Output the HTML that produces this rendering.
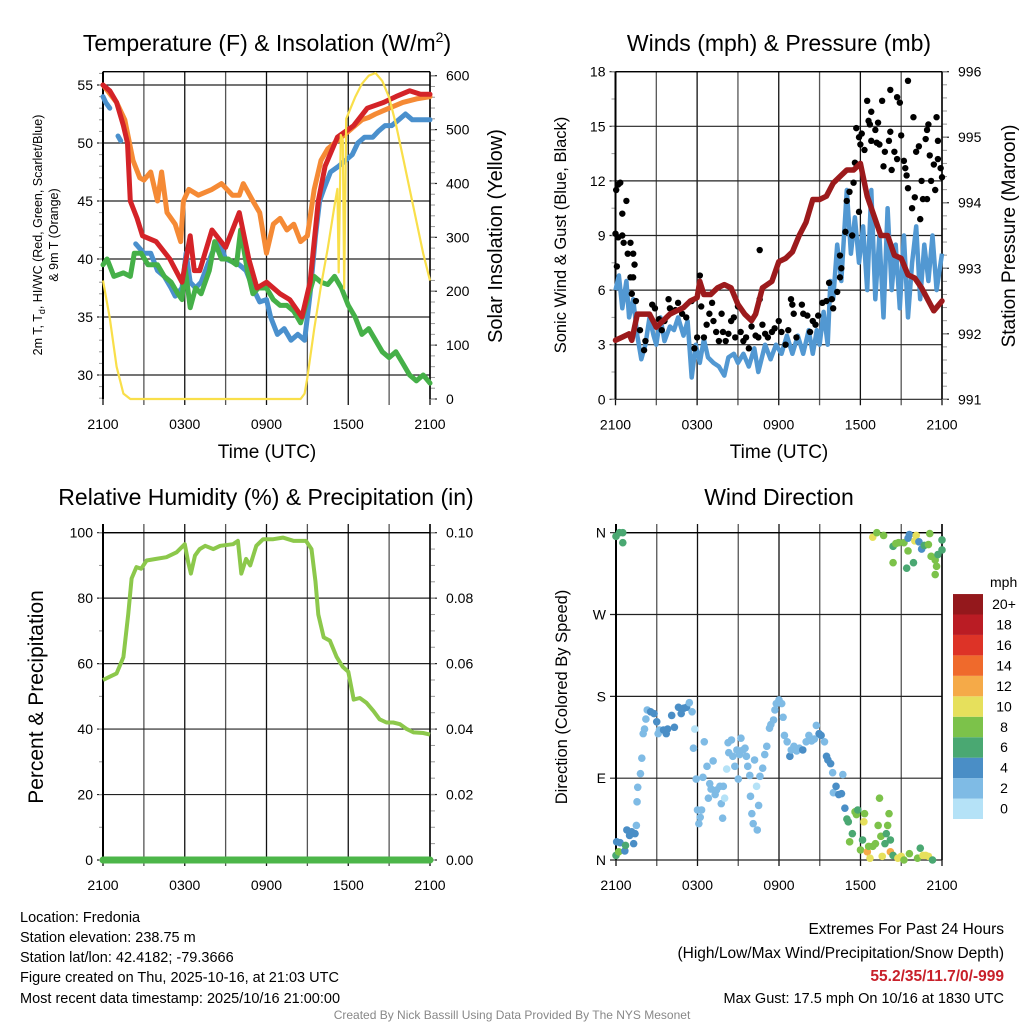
<!DOCTYPE html>
<html><head><meta charset="utf-8"><style>
html,body{margin:0;padding:0;background:#fff;}
svg{display:block;font-family:"Liberation Sans",Arial,sans-serif;}
</style></head><body>
<svg id="chart" width="1024" height="1024" viewBox="0 0 1024 1024" xmlns="http://www.w3.org/2000/svg">
<rect x="0" y="0" width="1024" height="1024" fill="#fff"/>
<g id="layer"></g>
<text x="267" y="51" font-size="23" text-anchor="middle">Temperature (F) &amp; Insolation (W/m<tspan font-size="14" dy="-9">2</tspan><tspan dy="9">)</tspan></text>
<text x="779" y="51" font-size="23" text-anchor="middle">Winds (mph) &amp; Pressure (mb)</text>
<text x="266" y="505" font-size="23" text-anchor="middle">Relative Humidity (%) &amp; Precipitation (in)</text>
<text x="779" y="505" font-size="23" text-anchor="middle">Wind Direction</text>
<text x="267" y="458" font-size="19" text-anchor="middle">Time (UTC)</text>
<text x="779" y="458" font-size="19" text-anchor="middle">Time (UTC)</text>
<text transform="translate(42,235) rotate(-90)" font-size="12.5" text-anchor="middle">2m T, T<tspan font-size="9" dy="3">d</tspan><tspan dy="-3">, HI/WC (Red, Green, Scarlet/Blue)</tspan></text>
<text transform="translate(58,235) rotate(-90)" font-size="12.5" text-anchor="middle">&amp; 9m T (Orange)</text>
<text transform="translate(502,236) rotate(-90)" font-size="20" text-anchor="middle">Solar Insolation (Yellow)</text>
<text transform="translate(566,235) rotate(-90)" font-size="16.5" text-anchor="middle">Sonic Wind &amp; Gust (Blue, Black)</text>
<text transform="translate(1015,236) rotate(-90)" font-size="19" text-anchor="middle">Station Pressure (Maroon)</text>
<text transform="translate(43,697) rotate(-90)" font-size="21" text-anchor="middle">Percent &amp; Precipitation</text>
<text transform="translate(567,697) rotate(-90)" font-size="16.5" text-anchor="middle">Direction (Colored By Speed)</text>
<text x="990" y="587" font-size="14">mph</text>
<g font-size="14.5">
<text x="20" y="922">Location: Fredonia</text>
<text x="20" y="942">Station elevation: 238.75 m</text>
<text x="20" y="962">Station lat/lon: 42.4182; -79.3666</text>
<text x="20" y="982">Figure created on Thu, 2025-10-16, at 21:03 UTC</text>
<text x="20" y="1003">Most recent data timestamp: 2025/10/16 21:00:00</text>
</g>
<g font-size="15.5" text-anchor="end">
<text x="1004" y="934">Extremes For Past 24 Hours</text>
<text x="1004" y="958">(High/Low/Max Wind/Precipitation/Snow Depth)</text>
<text x="1004" y="981" fill="#c8202a" font-weight="bold">55.2/35/11.7/0/-999</text>
<text x="1004" y="1003" font-size="14.5">Max Gust: 17.5 mph On 10/16 at 1830 UTC</text>
</g>
<text x="512" y="1019" font-size="12" fill="#888" text-anchor="middle">Created By Nick Bassill Using Data Provided By The NYS Mesonet</text>
</svg>
<script>
// ---------- DATA ----------
const xTickLabels = ["2100","0300","0900","1500","2100"];
const redH = [0,0.5,1,1.5,1.8,2.0,2.5,2.9,3.9,4.9,5.8,6.4,6.7,7.1,8,9,10,10.7,11.3,12,13,13.7,14.6,15.2,15.8,16.3,17.2,18.4,19.4,20.6,21.5,22.5,23.3,24];
const redV = [55,54.5,53.5,51.5,50,45,43.5,42,41.5,40,38,42,39,39,42.5,41,44,40,37.5,38,37,36.5,35,38,45,48,50.5,51.5,53,53.5,54,54.5,54.2,54.2];
const orangeH = [0,1,1.6,2.2,2.7,3,3.5,4,4.3,4.7,5.3,5.7,5.9,6.3,7,8,8.7,9.5,10,10.3,11,11.5,12,12.5,13,13.5,14,14.5,15,15.5,16,16.5,17,17.5,18,18.5,19,19.5,20,21,22,23,24];
const orangeV = [55,53.5,52,48.5,47,46.8,47.5,45,47.5,44,43,41.5,45,46,45.5,46,46.5,45.5,45.5,46.5,45,44,40.5,43,43.5,42.5,43,41.5,42,46,48.5,49.5,50,50.5,51,51.5,52,52.2,52.5,53,53.5,53.8,54];
// null = data gap
const blueTH = [0,0.2,0.5,0.7,1.1,1.3,2.3,2.4,3,3.5,4,4.5,5,5.3,5.8,6.1,6.4,6.8,7.2,8,8.5,9,10,10.5,11,11.5,12,12.3,12.8,13.3,13.8,14.3,14.8,15.2,15.6,15.9,16.2,16.7,17.3,17.8,18.3,18.7,19.2,19.8,20.2,20.7,21.2,21.7,22.2,22.7,23.2,24];
const blueTV = [54,53.5,53,null,50.6,50.2,null,41.3,40.5,40.5,39,38.5,37.5,36.8,37.5,40.5,38,37.5,38,40.5,41.5,40,39.5,39,37.5,36.3,36.5,35,33.5,34,33,33.5,33,37,42,45,46,47.5,48,48.5,49,50,50.5,50.5,51,51.5,51.5,52,52.5,52,52,52];
const greenH = [0,0.3,0.8,1.5,2,2.3,2.8,3.3,4,4.5,5,5.5,5.8,6,6.4,6.8,7.2,7.8,8.2,8.7,9.2,9.8,10.1,10.6,11,11.4,12,12.5,13,13.5,14,14.5,15,15.5,16,16.5,17,17.5,18,18.5,19,19.5,20,20.5,21,21.5,22,22.5,23,23.5,24];
const greenV = [39.5,40,38.5,38.8,38.5,40.5,40.5,39.5,39.5,38.5,38,37,36.5,39.5,35.8,37.5,37,39,41.5,40,40,39.5,42.5,39,37,37.5,37.5,36.5,36,36,35.5,34.5,36.5,38.5,38,37.8,38.5,37.5,36,35,33.5,34,33,32,31.5,32,31,30,29.5,30,29.3];
const solarH = [0,0.5,1,1.5,2,14.5,14.8,15,15.5,16,16.5,17,17.2,17.3,17.45,17.6,17.7,17.85,18.5,19,19.5,20,20.5,21,21.5,22,22.5,23,23.5,24];
const solarV = [220,150,60,10,0,0,10,40,130,210,280,360,390,235,490,480,205,520,560,585,600,605,590,560,510,450,390,330,270,220];
const windH = [0,0.25,0.5,0.8,1,1.3,1.6,1.9,2.2,2.5,2.8,3,3.3,3.6,4,4.3,4.6,5,5.3,5.6,5.9,6.2,6.5,6.8,7.2,7.6,8,8.3,8.7,9,9.4,9.8,10.2,10.5,11,11.4,11.8,12.2,12.6,13,13.4,13.8,14.2,14.5,14.8,15,15.3,15.6,15.8,16,16.3,16.6,17,17.3,17.6,17.9,18.2,18.5,18.8,19.1,19.4,19.7,20,20.3,20.6,20.9,21.2,21.5,21.8,22.1,22.4,22.7,23,23.3,23.6,24];
const windV = [6,6.8,5,6.5,4.5,5.5,3.5,2.2,3,4.5,3.5,3,4.5,3.2,4,3.8,4.5,3.5,4.3,1.2,3,2,3.3,2.3,2,1.8,1.3,2.3,2.5,2,2.5,1.8,2.8,1.5,3,2.2,3,2.5,3.5,2.5,3.5,2.5,3.8,2.5,3.8,3,4.8,3,6.5,5.5,8.5,6.5,11.5,8,10,7.5,9.5,6,11.5,5.5,9,4.5,10.5,6,8.5,5,9,4.5,7.5,9.5,5.5,8.5,6.5,9,6,8];
const pressH = [0,0.5,1,1.2,1.6,2,2.5,3,3.5,4,4.5,5,5.5,6,6.2,6.5,7,7.5,8,8.5,9,9.5,10,10.3,10.8,11.5,12,12.5,13,13.5,14,14.5,15,15.5,16,16.5,17,17.5,18,18.5,19,19.5,20,20.5,21,21.5,22,22.5,23.4,24];
const pressV = [991.9,991.95,992,991.9,992.3,992.3,992.3,992.1,992.2,992.3,992.35,992.4,992.5,992.55,992.8,992.6,992.6,992.7,992.75,992.7,992.45,992.3,992.2,992.3,992.7,992.8,993.1,993.15,993.25,993.5,993.7,994.05,994.05,994.1,994.3,994.4,994.5,994.5,994.6,994.1,993.8,993.5,993.5,993.2,993.15,992.9,992.85,992.7,992.35,992.5];
const gustH = [0,0.05,0.2,0.35,0.1,0.2,0.5,0.5,0.8,0.6,0.9,1.1,1.3,1.4,1.1,1.3,1.2,1.5,1.8,2.1,2.2,2.7,2.9,3.2,3.4,3.6,3.9,4,4.4,4.6,4.9,5.2,5.6,5.8,6,6.2,6.3,6.5,6.7,6.9,7.1,7.2,7.4,7.6,7.8,7.9,8.1,8.3,8.5,8.7,8.8,9,9.2,9.4,9.6,9.8,10,10.3,10.5,10.6,10.6,10.8,11,11.2,11.5,11.7,12,12.2,12.5,12.7,12.9,13,13.1,13.3,13.7,13.8,14.1,14.3,14.5,14.7,14.9,15.2,15.5,15.7,15.9,16,16.3,16.5,16.5,16.6,16.9,17,17.2,17.4,17.5,17.6,17.7,17.9,17.9,18,18.1,18.3,18.5,18.6,18.7,18.8,18.8,19.1,19.2,19.3,19.4,19.6,19.7,19.8,20.1,20.2,20.2,20.3,20.5,20.7,20.7,20.9,21,21.2,21.3,21.4,21.5,21.5,21.8,21.9,22,22.1,22.3,22.4,22.5,22.6,22.8,22.9,22.9,23,23.1,23.2,23.4,23.5,23.6,23.7,23.7,23.9,24];
const gustV = [9.1,11.5,11.8,11.9,7.3,8.9,9,10.2,10.9,8.6,8,8.6,8,7.4,6.7,6.7,5.8,5.4,3.8,2.7,3.2,5.2,5,4.4,3.8,4.3,5.5,5,4.9,5.3,4.7,4.5,5.4,2.8,3.4,6.8,5.1,3.4,4.1,4.7,5.3,4.3,3.7,3.2,4.7,3.7,3.2,3.6,4.3,4.5,3.4,5.1,3.7,3.2,3.4,2.8,4,3.5,3.4,8.2,5.5,4.1,3.6,3.4,3.7,3.9,4.3,3.7,3,3.8,5.5,5.2,4.7,3.4,5.2,4.7,4.6,3.7,4.3,4.1,4.6,5.3,5.4,6.4,5.5,5,5.9,7.9,6.7,7.2,9.2,10.9,11.4,9,11.9,13,14.9,14.4,10.3,14,14.6,13.7,16.4,15.3,15.1,15.8,14.2,14.8,14.1,15.2,14,16.4,12.8,13.6,14.2,14.7,17,12.6,13.6,13.2,16.6,16.3,14.5,13.1,12.7,12.3,17.5,11.6,10.5,15.5,11.1,13.6,13.9,9.9,12,11,14.3,14.8,11,15.1,13.4,12,12.9,11.5,15.5,13.2,14.2,12.7,12.2];
const rhH = [0,0.5,1,1.5,1.85,2.1,2.45,2.8,3.2,3.9,4.65,5.4,6,6.25,6.45,6.75,7.1,7.5,8.1,8.6,9.55,9.9,10.15,10.5,10.8,11.25,11.75,12.5,13.2,14,14.9,15.3,15.6,15.8,16.2,16.65,17.15,17.6,18,18.4,18.85,19.35,19.85,20.3,20.8,21.3,21.8,22.3,22.8,23.5,24];
const rhV = [55,56,57,62,75,86,89.5,89,91.5,92,92.5,94,96.5,91,87.5,93,95,96,95,96,96.5,97.5,87.5,92,90,96,98,98,98.5,97.5,97.5,95,85,75,68,67,62,59,57.5,49,49.5,48,45.5,43,42,42,41.5,40,39,38.8,38.3];
const precipH = [0,24];
const precipV = [0,0];
const dirH = [0,0.25,0.5,0.5,0,0.2,0.05,0.3,0.65,0.7,0.8,1,1.15,1.3,1.4,1.5,1.55,1.6,1.8,1.9,2,2.1,2.2,2.3,2.55,2.8,3,3.1,3.2,3.5,3.7,3.8,4.1,4.3,4.6,4.8,5,5.2,5.4,5.6,5.8,5.7,5.9,6,6.1,6.2,6.3,6.4,6.5,6.7,6.8,6.9,7,7.15,7.3,7.4,7.65,7.75,7.85,7.9,8,8.15,8.25,8.3,8.5,8.6,8.75,8.9,9,9.1,9.2,9.35,9.5,9.6,9.7,9.85,9.9,10,10.1,10.2,10.35,10.4,10.5,10.6,10.8,10.95,11.1,11.3,11.4,11.6,11.7,11.8,12,12.2,12.3,12.4,12.6,12.8,12.9,13.1,13.3,13.5,13.75,14,14.2,14.4,14.6,14.75,14.95,15.1,15.35,15.5,15.6,15.8,15.95,16,16.2,16.4,16.6,16.7,16.85,17,17.1,17.2,17.4,17.6,17.7,17.8,18,18.15,18.25,18.3,18.5,18.6,18.7,18.9,19.1,19.3,19.4,19.5,19.6,19.8,19.9,20,20.1,20.2,20.2,20.4,20.75,21,21.2,21.6,22.2,22.4,22.6,22.8,23,23.3,18.9,19.2,19.7,20.4,20.6,20.8,20.4,21.2,21.5,21.9,21.4,21.6,21.5,22.1,22,22.3,22.5,22.7,23.1,23,23.2,23.5,23.6,23.5,23.7,24,24];
const dirV = [356,360,360,349,5,9,20,19,10,16,33,27,31,18,29,38,64,80,95,112,139,144,155,165,163,161,152,139,143,143,139,144,159,146,168,161,167,168,173,163,144,123,89,55,40,47,55,91,130,103,68,84,78,109,72,77,81,62,46,81,68,100,129,118,132,114,103,121,89,116,134,121,123,114,103,93,70,51,40,110,81,33,60,92,101,116,125,145,149,154,165,172,176,172,157,137,130,114,121,125,120,123,121,130,137,131,133,148,139,137,130,114,110,106,96,74,81,72,73,94,57,45,42,20,29,53,50,55,11,22,42,51,9,15,2,15,18,38,68,26,4,18,29,38,51,22,9,5,2,4,0,7,2,13,5,5,4,0,355,360,357,345,348,349,327,349,340,327,321,358,354,357,351,350,342,346,359,347,334,330,323,314,336,352,341];
const dirS = [3,3,3,3,3,4,2,2,2,3,2,2,2,2,2,1,1,1,1,1,1,1,1,1,2,2,2,1,1,2,2,2,2,2,2,2,2,2,1,1,0,1,1,1,1,1,1,1,1,1,1,1,1,1,1,1,1,1,1,1,0,0,1,1,1,1,1,1,1,1,1,1,1,1,1,1,1,1,1,1,0,1,1,1,1,1,1,1,1,1,1,1,1,1,1,1,1,2,1,1,1,1,2,1,1,1,1,1,2,2,1,2,2,2,1,1,2,2,2,1,2,3,3,4,3,4,4,3,4,3,5,4,6,4,5,4,4,4,4,4,5,3,3,4,4,3,6,3,5,5,4,4,4,3,5,5,5,3,5,4,4,3,4,4,4,4,4,3,3,2,2,5,5,2,2,3,4,4,4,4,4,4,3,3,3,4];
const speedColors = ["#b5e2f7","#7fbbe5","#4a8ec6","#4aa872","#7cc24a","#e6e05c","#f5aa48","#ef6a2c","#dd3327","#ba1c24","#94181c"];
const speedLabels = ["0","2","4","6","8","10","12","14","16","18","20+"];

// ---------- DRAWING ----------
const NS = "http://www.w3.org/2000/svg";
const layer = document.getElementById('layer');
function mk(tag, attrs, parent){
  const e = document.createElementNS(NS, tag);
  for (const k in attrs) e.setAttribute(k, attrs[k]);
  (parent||layer).appendChild(e);
  return e;
}
function makeX(x0, x1){ return h => x0 + (x1 - x0) * h / 24; }
function makeY(y0, y1, v0, v1){ return v => y0 + (y1 - y0) * (v - v0) / (v1 - v0); }
function linePath(hs, vs, xf, yf){
  let d = '', pen = false;
  hs.forEach((h,i)=>{
    if (vs[i] === null) { pen = false; return; }
    d += (pen ? 'L' : 'M') + xf(h).toFixed(1) + ' ' + yf(vs[i]).toFixed(1) + ' ';
    pen = true;
  });
  return d;
}
function frame(name, x0, x1, yTop, yBot, yTicksL, yfL, labelsL, rightTicks, yfR, labelsR, minorL, minorR, gridTop){
  const g = mk('g', {});
  
  
  const xf = makeX(x0, x1);
  for (let h = 0; h <= 24; h += 3) {
    const gx = xf(h);
    const ln = mk('line', {x1:gx, x2:gx, y1:gridTop, y2:yBot+6, stroke:(h%6===0)?'#111':'#555', 'stroke-width':1.3}, g);
    
    
  }
  xTickLabels.forEach((t,i)=>{
    const tx = mk('text', {x:xf(i*6), y:yBot+30, 'font-size':14, 'text-anchor':'middle'}, g);
    tx.textContent = t;
    
    
  });
  yTicksL.forEach((v,i)=>{
    const yy = yfL(v);
    const ln = mk('line', {x1:x0-6, x2:x1, y1:yy, y2:yy, stroke:'#222', 'stroke-width':1.2}, g);
    
    
    const tx = mk('text', {x:x0-10, y:yy+5, 'font-size':14, 'text-anchor':'end'}, g);
    tx.textContent = labelsL[i];
    
    
  });
  minorL.forEach(v=>{ const yy=yfL(v); mk('line',{x1:x0-4,x2:x0,y1:yy,y2:yy,stroke:'#999','stroke-width':1},g); });
  if (rightTicks) {
    rightTicks.forEach((v,i)=>{
      const yy = yfR(v);
      mk('line', {x1:x1, x2:x1+7, y1:yy, y2:yy, stroke:'#222', 'stroke-width':1.2}, g);
      const tx = mk('text', {x:x1+16, y:yy+5, 'font-size':14}, g);
      tx.textContent = labelsR[i];
      
      
    });
    minorR.forEach(v=>{ const yy=yfR(v); mk('line',{x1:x1,x2:x1+5,y1:yy,y2:yy,stroke:'#999','stroke-width':1},g); });
  }
  mk('line', {x1:x0, x2:x0, y1:gridTop, y2:yBot, stroke:'#000', 'stroke-width':2}, g);
  mk('line', {x1:x1, x2:x1, y1:gridTop, y2:yBot, stroke:'#000', 'stroke-width':1.5}, g);
  mk('line', {x1:x0, x2:x1, y1:yTop, y2:yTop, stroke:'#000', 'stroke-width':1.3}, g);
  return xf;
}
function range(a,b,s){const r=[];for(let v=a;v<=b+1e-9;v+=s)r.push(+v.toFixed(4));return r;}

// Panel 1
const p1x = makeX(103, 430);
const p1y = makeY(375, 85, 30, 55);
const p1r = makeY(399, 75.7, 0, 600);
frame('temperature', 103, 430, 71.7, 399, [55,50,45,40,35,30], p1y, ['55','50','45','40','35','30'],
  [0,100,200,300,400,500,600], p1r, ['0','100','200','300','400','500','600'], range(28,56,1), range(0,600,20), 71.7);
[[blueTH,blueTV,'#4a90cd','temp-scarlet-blue-line'],[greenH,greenV,'#45b048','dewpoint-green-line'],[orangeH,orangeV,'#f58a35','temp-9m-orange-line'],[redH,redV,'#d42328','temp-2m-red-line']].forEach(s=>{
  const p = mk('path', {d:linePath(s[0],s[1],p1x,p1y), fill:'none', stroke:s[2], 'stroke-width':5, 'stroke-linejoin':'round', 'stroke-linecap':'round'});
  
  
});
const sol = mk('path', {d:linePath(solarH, solarV, p1x, p1r), fill:'none', stroke:'#f9df4a', 'stroke-width':2.2, 'stroke-linejoin':'round'});



// Panel 2
const p2x = makeX(615.5, 942);
const p2y = makeY(399.3, 71.7, 0, 18);
const p2r = makeY(399.3, 71.7, 991, 996);
frame('winds', 615.5, 942, 71.7, 399.3, [18,15,12,9,6,3,0], p2y, ['18','15','12','9','6','3','0'],
  [991,992,993,994,995,996], p2r, ['991','992','993','994','995','996'], range(0,18,1.5), range(991,996,0.2), 71.7);
const wl = mk('path', {d:linePath(windH, windV, p2x, p2y), fill:'none', stroke:'#5298d2', 'stroke-width':4.5, 'stroke-linejoin':'round'});


gustH.forEach((h,i)=>{
  const c = mk('circle', {cx:p2x(h), cy:p2y(gustV[i]), r:3.2, fill:'#000'});
  
  
});
const pl = mk('path', {d:linePath(pressH, pressV, p2x, p2r), fill:'none', stroke:'#9c1a1c', 'stroke-width':5.5, 'stroke-linejoin':'round', 'stroke-linecap':'round'});



// Panel 3
const p3x = makeX(103, 430);
const p3y = makeY(860, 532.7, 0, 100);
const p3r = makeY(860, 532.7, 0, 0.1);
frame('humidity', 103, 430, 532.7, 860, [100,80,60,40,20,0], p3y, ['100','80','60','40','20','0'],
  [0,0.02,0.04,0.06,0.08,0.1], p3r, ['0.00','0.02','0.04','0.06','0.08','0.10'], range(0,100,10), range(0,0.1,0.005), 524);
const rl = mk('path', {d:linePath(rhH, rhV, p3x, p3y), fill:'none', stroke:'#8cc84b', 'stroke-width':4, 'stroke-linejoin':'round'});


const prl = mk('path', {d:linePath(precipH, precipV, p3x, p3r), fill:'none', stroke:'#4cb649', 'stroke-width':7, 'stroke-linecap':'round'});



// Panel 4
const p4x = makeX(616, 942);
const p4y = makeY(860, 532.7, 0, 360);
frame('wind-direction', 616, 942, 532.7, 860, [360,270,180,90,0], p4y, ['N','W','S','E','N'],
  null, null, null, [], [], 524);
dirH.forEach((h,i)=>{
  const c = mk('circle', {cx:p4x(h), cy:p4y(dirV[i]), r:3.8, fill:speedColors[dirS[i]]});
  
  
});
speedColors.forEach((col,i)=>{
  const y = 819 - (i+1)*20.45;
  const r = mk('rect', {x:953, y:y, width:30, height:20.45, fill:col});
  
  
  const t = mk('text', {x:1004, y:y+15, 'font-size':14, 'text-anchor':'middle'});
  t.textContent = speedLabels[i];
  
  
});
</script>
</body></html>
